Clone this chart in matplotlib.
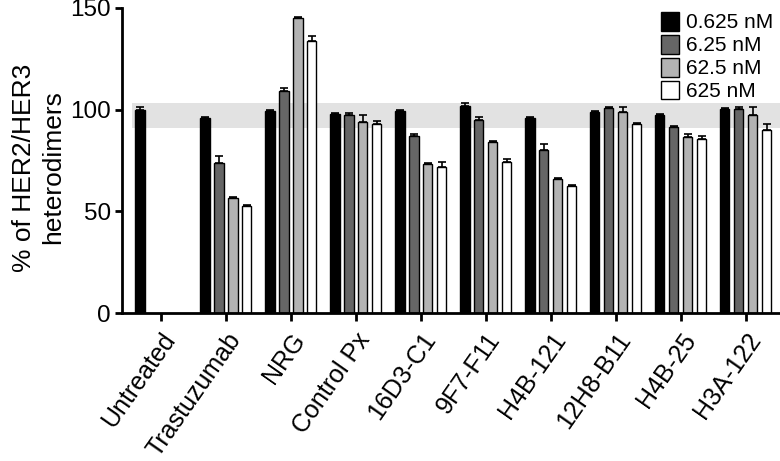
import matplotlib
matplotlib.use("Agg")
import matplotlib.pyplot as plt
import numpy as np
from matplotlib.patches import Rectangle

plt.rcParams['font.family'] = ['Liberation Sans', 'DejaVu Sans']
plt.rcParams['hatch.color'] = '#7a7a7a'
plt.rcParams['hatch.linewidth'] = 0.7

categories = ["Untreated", "Trastuzumab", "NRG", "Control Px", "16D3-C1",
              "9F7-F11", "H4B-121", "12H8-B11", "H4B-25", "H3A-122"]
series_names = ["0.625 nM", "6.25 nM", "62.5 nM", "625 nM"]
colors = ["#000000", "#666666", "#b3b3b3", "#ffffff"]

v_0625 = [100.0, 96.1, 99.2, 97.9, 99.5, 101.8, 95.8, 98.9, 97.5, 100.5]
v_625 = [np.nan, 73.6, 109.2, 97.4, 87.1, 94.9, 80.3, 101.0, 91.3, 100.5]
v_625b = [np.nan, 56.7, 145.0, 94.0, 73.3, 84.3, 65.8, 99.0, 86.6, 97.5]
v_625c = [np.nan, 52.8, 134.0, 93.0, 72.0, 74.1, 62.5, 93.0, 85.4, 90.2]

e_0625 = [1.3, 0.5, 0.5, 0.5, 0.5, 1.6, 0.5, 0.5, 0.5, 0.5]
e_625 = [0, 3.6, 1.5, 1.1, 0.9, 1.5, 2.8, 0.5, 0.5, 0.8]
e_625b = [0, 0.5, 0.4, 3.5, 0.5, 0.5, 0.5, 2.2, 1.4, 3.7]
e_625c = [0, 0.5, 2.0, 1.4, 2.3, 1.6, 0.5, 0.5, 1.5, 2.9]

values = [v_0625, v_625, v_625b, v_625c]
errors = [e_0625, e_625, e_625b, e_625c]

band_low, band_high = 91.0, 103.5

fig = plt.figure(figsize=(7.8, 4.61), dpi=100)
ax = fig.add_axes([122/780, 148/461, 1 - 122/780, 305/461])

x = np.arange(len(categories))
step = 0.215
width = 0.15

ax.add_patch(Rectangle((-0.44, band_low), 10.5, band_high - band_low,
                       facecolor='#e2e2e2', edgecolor='none', hatch='......',
                       zorder=1))

for i, (vals, errs, col, name) in enumerate(zip(values, errors, colors, series_names)):
    pos = x + (i - 1.5) * step
    vals = np.array(vals, dtype=float)
    errs = np.array(errs, dtype=float)
    mask = ~np.isnan(vals)
    ax.bar(pos[mask], vals[mask], width=width, color=col, edgecolor='black',
           linewidth=1.0, label=name, zorder=2)
    ax.errorbar(pos[mask], vals[mask], yerr=[np.zeros(mask.sum()), errs[mask]],
                fmt='none', ecolor='black', elinewidth=1.2, capsize=3,
                capthick=1.2, zorder=3)

ax.set_xlim(-0.595, 9.53)
ax.set_ylim(0, 150)
ax.set_yticks([0, 50, 100, 150])
ax.set_xticks(x)
ax.set_xticklabels(categories, rotation=55, ha='right', va='top',
                   rotation_mode='anchor', fontsize=18)
ax.tick_params(axis='y', labelsize=17.5, width=2, length=5, direction='out', pad=3)
ax.tick_params(axis='x', width=2, length=6, direction='out', pad=5)
for s in ['top', 'right']:
    ax.spines[s].set_visible(False)
for s in ['left', 'bottom']:
    ax.spines[s].set_linewidth(2)

ax.set_ylabel("% of HER2/HER3\nheterodimers", fontsize=19, linespacing=1.25)
ax.yaxis.set_label_coords(-0.087, 0.477)

leg = ax.legend(loc='upper right', bbox_to_anchor=(1.009, 1.028), frameon=False,
                fontsize=15, handlelength=0.85, handleheight=1.0,
                handletextpad=0.35, labelspacing=0.12, borderaxespad=0.2)

fig.savefig("out.png", dpi=100)
